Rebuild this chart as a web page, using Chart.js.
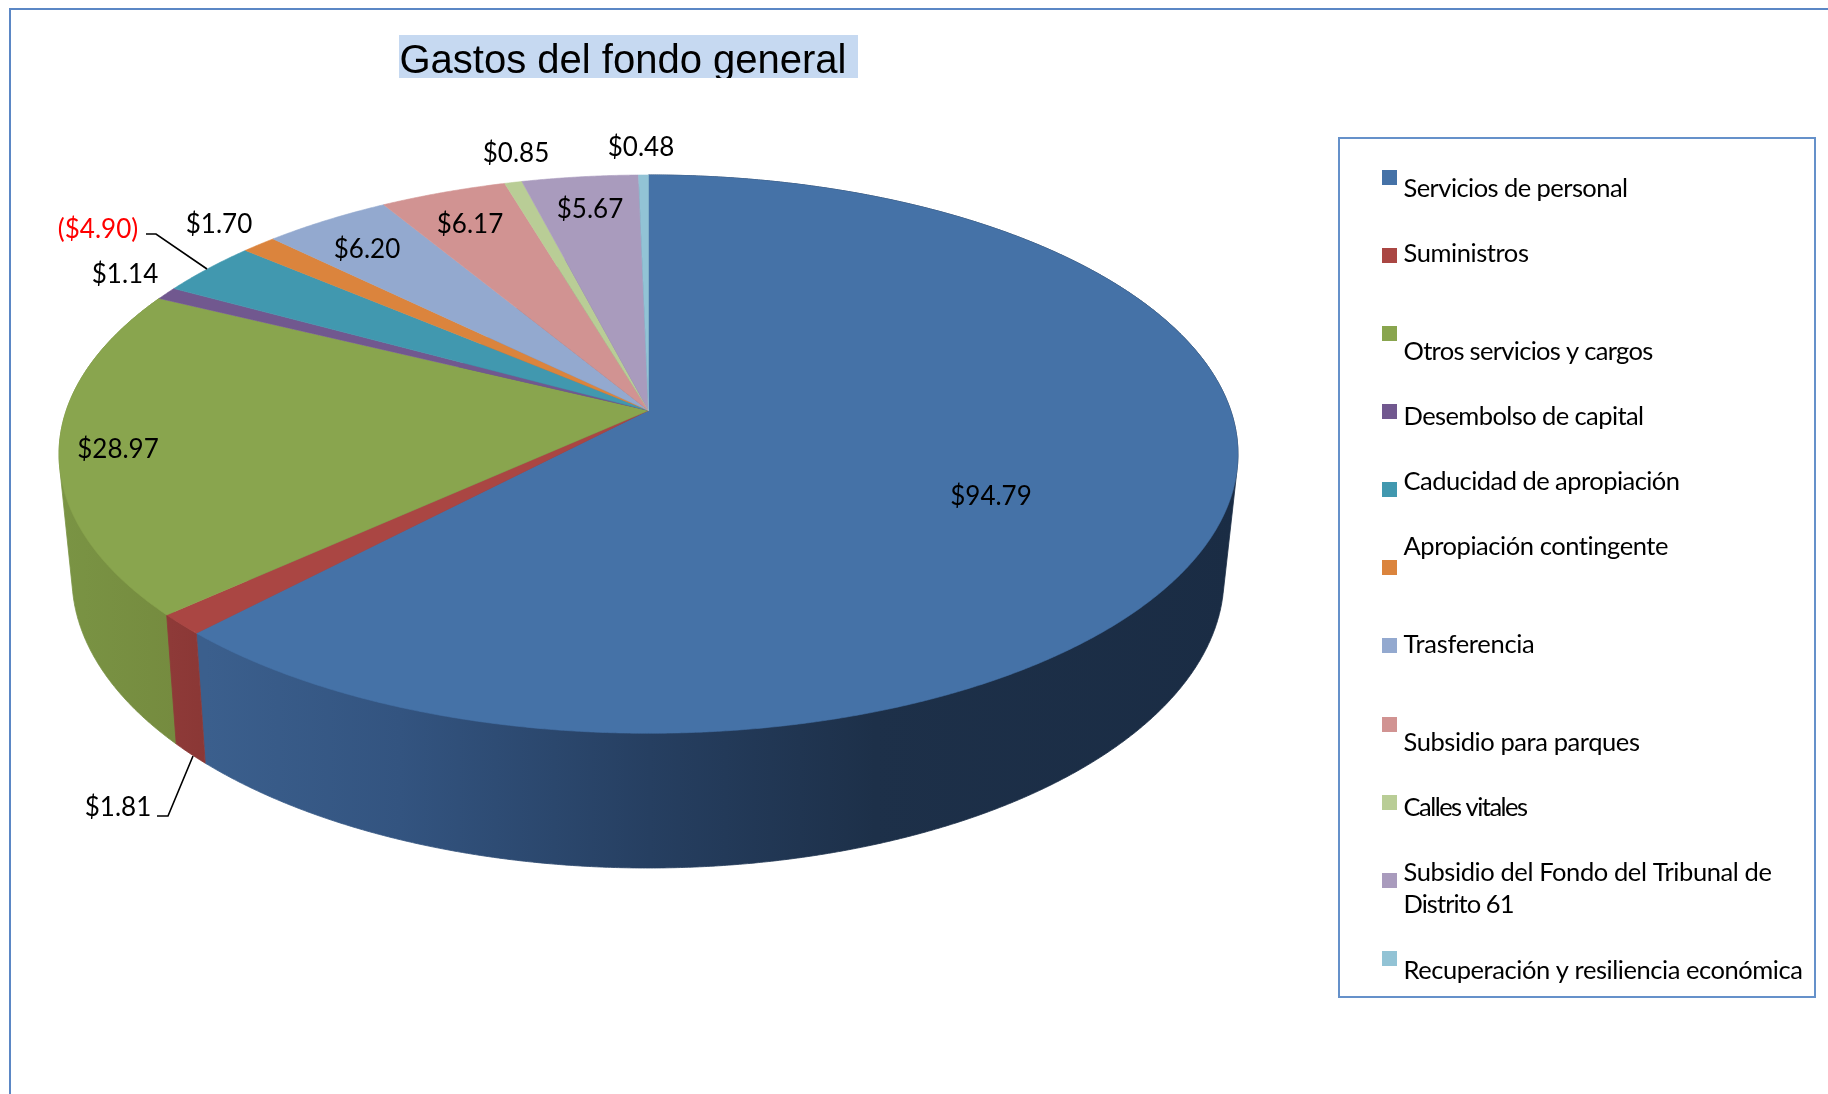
<!DOCTYPE html>
<html lang="es">
<head>
<meta charset="utf-8">
<title>Gastos del fondo general</title>
<style>html,body{margin:0;padding:0;background:#fff}canvas{display:block}</style>
<script src="https://cdn.jsdelivr.net/npm/chart.js@4/dist/chart.umd.js"></script>
</head>
<body>
<canvas id="c" width="1828" height="1094"></canvas>
<script>
// ---- data ----
const chartTitle = 'Gastos del fondo general';
const categories = ['Servicios de personal','Suministros','Otros servicios y cargos','Desembolso de capital','Caducidad de apropiación','Apropiación contingente','Trasferencia','Subsidio para parques','Calles vitales','Subsidio del Fondo del Tribunal de Distrito 61','Recuperación y resiliencia económica'];
const amounts = [94.79, 1.81, 28.97, 1.14, -4.90, 1.70, 6.20, 6.17, 0.85, 5.67, 0.48];
const sliceColors = ['#4572A7','#AA4643','#89A54E','#71588F','#4198AF','#DB843D','#93A9CF','#D19392','#B9CD96','#A99BBD','#92C3D5'];

// ---- layout (pixels) ----
const topRim = {cx:648.5, cy:410.4, a:582.2, b:272.3, k:0.1566};
const bottomRim = {cx:648, cy:530.5, a:568.6, b:283.5, k:0.16};
const labelSpots = [[991,505],[118,816],[118,458],[125,283],[98,238],[219,233],[367,258],[470,233],[516,162],[590,218],[641,156]];
const leaderLines = [[[146,234],[156,234],[207,269]],[[157,816],[168,816],[193,756]]];
const legendBox = {x:1339,y:138,w:476,h:859};
const swatchTops = [170,248,326,404,482,560,638,717,795,873,951];
const legendLines = [
  [['Servicios de personal',197,224]],[['Suministros',262,125]],[['Otros servicios y cargos',360,249]],
  [['Desembolso de capital',425,240]],[['Caducidad de apropiación',490,276]],[['Apropiación contingente',555,265]],
  [['Trasferencia',653,131]],[['Subsidio para parques',751,236]],[['Calles vitales',816,123]],
  [['Subsidio del Fondo del Tribunal de',881,368],['Distrito 61',913,110]],[['Recuperación y resiliencia económica',979,399]]];
const wallOrder = [0, 2, 1];
const wallStops = {
  0:[[206,'#3b5f8d'],[400,'#335480'],[650,'#263f61'],[875,'#1d3049'],[1240,'#1a2c44']],
  1:[[170,'#8e3a38'],[210,'#8a3735']],
  2:[[58,'#7a9444'],[177,'#758b3f']]
};
const textFont = 'Lato, sans-serif';

function project(p, t){
  const u = Math.sin(t), v = -Math.cos(t), d = 1 - p.k * v;
  return [p.cx + p.a * u / d, p.cy + p.b * v / d];
}
function rimPoints(p, from, to){
  const n = Math.max(2, Math.ceil(Math.abs(to - from) / 0.004)), out = [];
  for (let i = 0; i <= n; i++) out.push(project(p, from + (to - from) * i / n));
  return out;
}
function hull(pts){
  const s = pts.slice().sort((a,b) => a[0]-b[0] || a[1]-b[1]);
  const cross = (o,a,b) => (a[0]-o[0])*(b[1]-o[1]) - (a[1]-o[1])*(b[0]-o[0]);
  const half = list => { const h = []; list.forEach(q => { while (h.length > 1 && cross(h[h.length-2], h[h.length-1], q) <= 0) h.pop(); h.push(q); }); h.pop(); return h; };
  return half(s).concat(half(s.slice().reverse()));
}
function trace(ctx, pts){ pts.forEach((q,i) => i ? ctx.lineTo(q[0],q[1]) : ctx.moveTo(q[0],q[1])); }
const pie3d = {
  id:'pie3d',
  beforeDatasetsDraw(chart){
    const ctx = chart.ctx, arcs = chart.getDatasetMeta(0).data;
    const angles = arcs.map(e => { const s = e.getProps(['startAngle','endAngle'], true); return [s.startAngle + Math.PI/2, s.endAngle + Math.PI/2]; });
    ctx.save();
    // side wall: hull of the slice's top and bottom rim, top face paints over the back part
    wallOrder.forEach(i => {
      const r = angles[i], stops = wallStops[i];
      const x0 = stops[0][0], x1 = stops[stops.length-1][0];
      const g = ctx.createLinearGradient(x0, 0, x1, 0);
      stops.forEach(s => g.addColorStop((s[0]-x0)/(x1-x0), s[1]));
      ctx.beginPath();
      trace(ctx, hull(rimPoints(topRim, r[0], r[1]).concat(rimPoints(bottomRim, r[0], r[1]))));
      ctx.closePath();
      ctx.fillStyle = g; ctx.strokeStyle = g; ctx.lineWidth = 0.8;
      ctx.fill(); ctx.stroke();
    });
    // top face
    angles.forEach((r, i) => {
      ctx.beginPath();
      trace(ctx, [[topRim.cx, topRim.cy]].concat(rimPoints(topRim, r[0], r[1])));
      ctx.closePath();
      ctx.fillStyle = sliceColors[i]; ctx.strokeStyle = sliceColors[i]; ctx.lineWidth = 0.6;
      ctx.fill(); ctx.stroke();
    });
    ctx.restore();
    return false;
  },
  afterDraw(chart){
    const ctx = chart.ctx;
    ctx.save();
    // outer frame
    ctx.strokeStyle = '#5b87c5'; ctx.lineWidth = 2;
    ctx.beginPath(); ctx.moveTo(10,1094); ctx.lineTo(10,9); ctx.lineTo(1828,9); ctx.stroke();
    // title with clipped highlight
    ctx.save();
    ctx.beginPath(); ctx.rect(399,35,459,43); ctx.clip();
    ctx.fillStyle = '#c6d9f1'; ctx.fillRect(399,35,459,43);
    ctx.fillStyle = '#000'; ctx.font = '40px "Liberation Sans", Arial, sans-serif';
    ctx.textAlign = 'left'; ctx.textBaseline = 'alphabetic';
    ctx.fillText(chartTitle, 399.5, 73);
    ctx.restore();
    // leader lines
    ctx.strokeStyle = '#000'; ctx.lineWidth = 1.6;
    leaderLines.forEach(l => { ctx.beginPath(); trace(ctx, l); ctx.stroke(); });
    // value labels
    ctx.font = '26px ' + textFont; ctx.textAlign = 'center'; ctx.textBaseline = 'alphabetic';
    amounts.forEach((v,i) => {
      const s = '$' + Math.abs(v).toFixed(2);
      ctx.fillStyle = v < 0 ? '#ff0000' : '#000';
      ctx.fillText(v < 0 ? '(' + s + ')' : s, labelSpots[i][0], labelSpots[i][1]);
    });
    // legend
    ctx.strokeStyle = '#6591ca'; ctx.lineWidth = 2;
    ctx.strokeRect(legendBox.x, legendBox.y, legendBox.w, legendBox.h);
    ctx.textAlign = 'left'; ctx.font = '25.5px ' + textFont;
    categories.forEach((c,i) => {
      ctx.fillStyle = sliceColors[i];
      ctx.fillRect(1382, swatchTops[i], 15, 15);
      ctx.fillStyle = '#000';
      legendLines[i].forEach(l => {
        ctx.letterSpacing = '0px';
        const w = ctx.measureText(l[0]).width;
        ctx.letterSpacing = ((l[2] - w) / l[0].length).toFixed(3) + 'px';
        ctx.fillText(l[0], 1403.5, l[1]);
      });
      ctx.letterSpacing = '0px';
    });
    ctx.restore();
  }
};
new Chart(document.getElementById('c'), {
  type:'pie',
  data:{labels:categories, datasets:[{data:amounts, backgroundColor:sliceColors, borderWidth:0}]},
  options:{responsive:false, animation:false, rotation:0, plugins:{legend:{display:false}, title:{display:false}, tooltip:{enabled:false}}},
  plugins:[pie3d]
});
</script>
</body>
</html>
